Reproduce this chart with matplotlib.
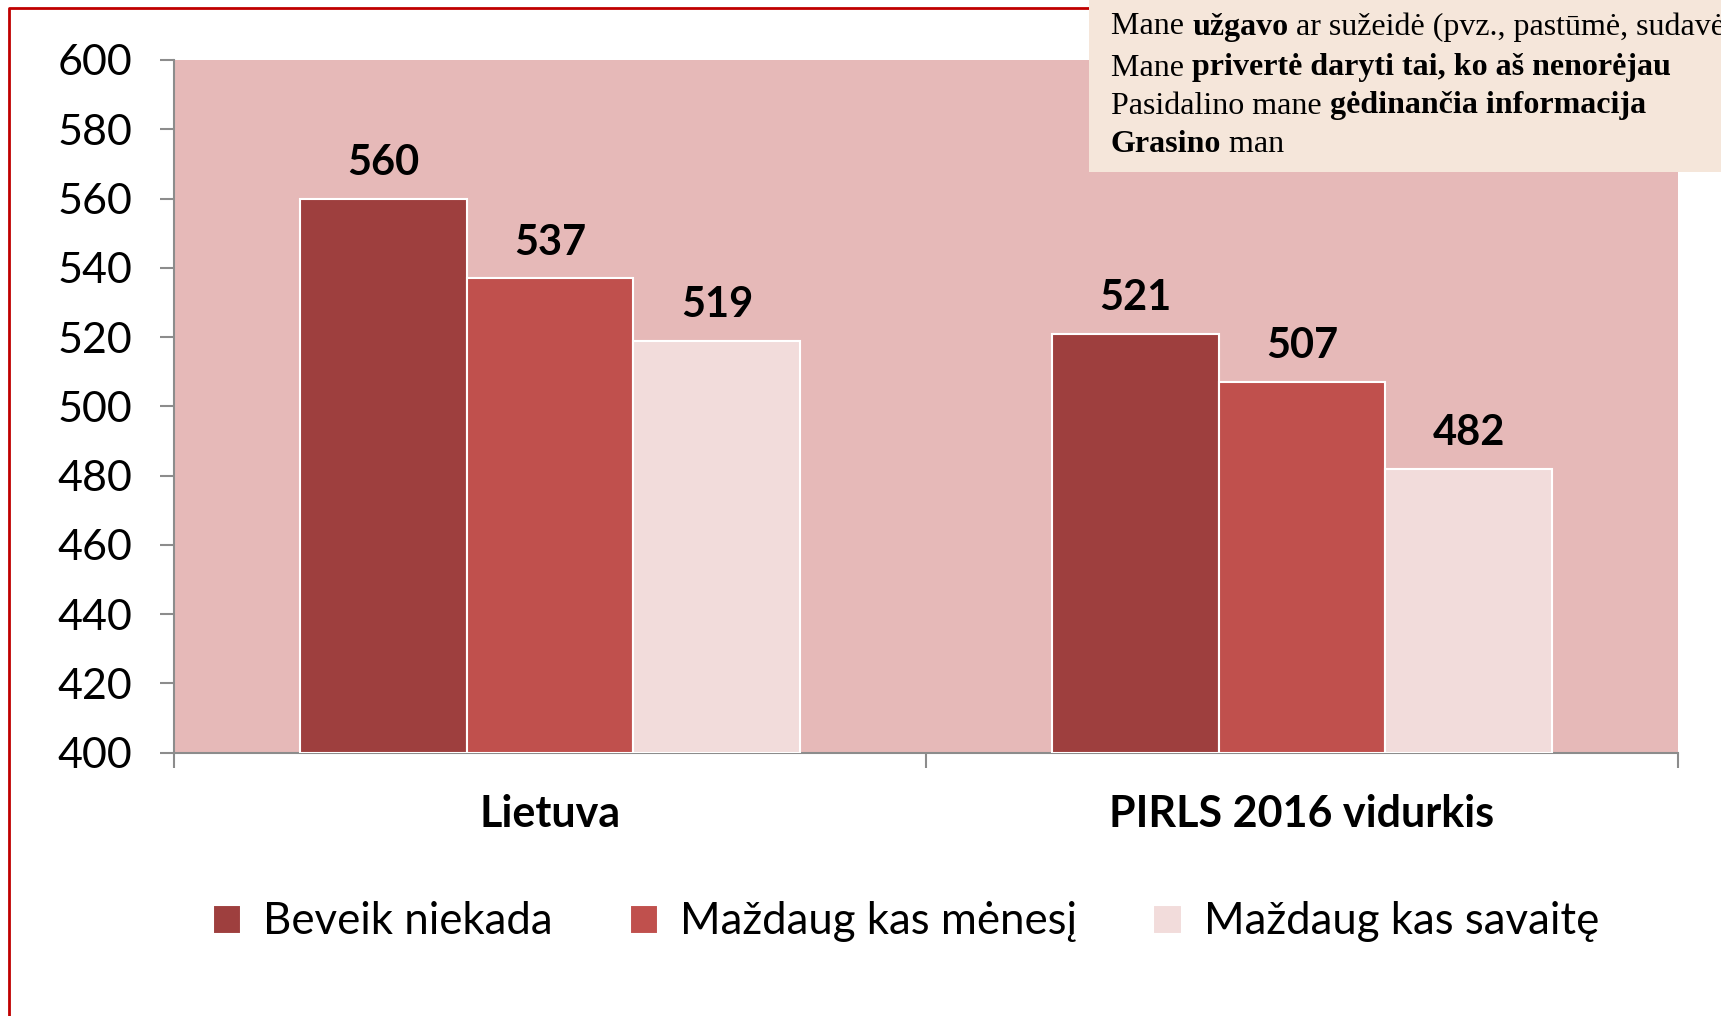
import matplotlib
matplotlib.use("Agg")
import matplotlib.pyplot as plt
import numpy as np
from matplotlib.patches import Rectangle
from matplotlib.lines import Line2D

plt.rcParams["font.family"] = ["Lato", "DejaVu Sans"]

categories = ["Lietuva", "PIRLS 2016 vidurkis"]
series_names = ["Beveik niekada", "Maždaug kas mėnesį", "Maždaug kas savaitę"]
values = [
    [560, 521],  # Beveik niekada
    [537, 507],  # Maždaug kas mėnesį
    [519, 482],  # Maždaug kas savaitę
]
colors = ["#9E3F3E", "#C0504D", "#F2DCDB"]
yticks = [400, 420, 440, 460, 480, 500, 520, 540, 560, 580, 600]

box_lines = [
    [("Mane ", False), ("užgavo", True), (" ar sužeidė (pvz., pastūmė, sudavė)", False)],
    [("Mane ", False), ("privertė daryti tai, ko aš nenorėjau", True)],
    [("Pasidalino mane ", False), ("gėdinančia informacija", True)],
    [("Grasino", True), (" man", False)],
]

W, H = 1721, 1016
fig = plt.figure(figsize=(W / 100, H / 100), dpi=100)

ax = fig.add_axes([174 / W, 1 - 752.7 / H, 1504 / W, 692.7 / H])
ax.set_facecolor("#E6B9B8")

x = np.arange(len(categories))
bw = 0.222
for i, (name, vals) in enumerate(zip(series_names, values)):
    pos = x + (i - 1) * bw
    bars = ax.bar(pos, np.array(vals) - 400, bw, bottom=400, color=colors[i],
                  edgecolor="white", linewidth=1.5, label=name, zorder=3)
    for b, v in zip(bars, vals):
        ax.annotate(str(v), (b.get_x() + b.get_width() / 2, v), xytext=(0, 12),
                    textcoords="offset points", ha="center", va="bottom",
                    fontsize=30, fontweight="bold")

ax.set_ylim(400, 600)
ax.set_xlim(-0.5, 1.5)
ax.set_yticks(yticks)
ax.tick_params(axis="y", labelsize=31, length=10, width=1.5, color="#8C8C8C", pad=20)
ax.set_xticks([-0.5, 0.5, 1.5])
ax.set_xticklabels([])
ax.tick_params(axis="x", which="major", length=11, width=1.5, color="#8C8C8C")
ax.set_xticks(x, minor=True)
ax.set_xticklabels(categories, minor=True, fontsize=31, fontweight="bold")
ax.tick_params(axis="x", which="minor", length=0, pad=30)
for s in ["top", "right"]:
    ax.spines[s].set_visible(False)
for s in ["left", "bottom"]:
    ax.spines[s].set_color("#8C8C8C")
    ax.spines[s].set_linewidth(1.5)

fig.legend(loc="center", bbox_to_anchor=(906 / W, 1 - 922 / H), ncol=3, frameon=False,
           fontsize=31.5, handlelength=0.65, handleheight=0.65, handletextpad=0.5,
           columnspacing=1.75)

# red frame
fig.add_artist(Line2D([9 / W, 9 / W, 1090 / W], [0, 1 - 8 / H, 1 - 8 / H],
                      transform=fig.transFigure, color="#C00000", linewidth=2))

# text box (runs off the right edge, as in the original)
fig.add_artist(Rectangle((1089 / W, 1 - 172 / H), (W - 1089) / W, 172 / H,
                         transform=fig.transFigure, facecolor="#F5E6DA",
                         edgecolor="none", zorder=5))
fig.canvas.draw()
renderer = fig.canvas.get_renderer()
line_y = [27, 68, 106, 145]
for segs, yy in zip(box_lines, line_y):
    xx = 1111
    for txt, bold in segs:
        t = fig.text(xx / W, 1 - yy / H, txt, fontsize=23,
                     family=["Liberation Serif", "DejaVu Serif"],
                     fontweight="bold" if bold else "normal",
                     va="center", ha="left", zorder=6)
        bb = t.get_window_extent(renderer)
        xx += bb.width

fig.savefig("out.png", dpi=100)
